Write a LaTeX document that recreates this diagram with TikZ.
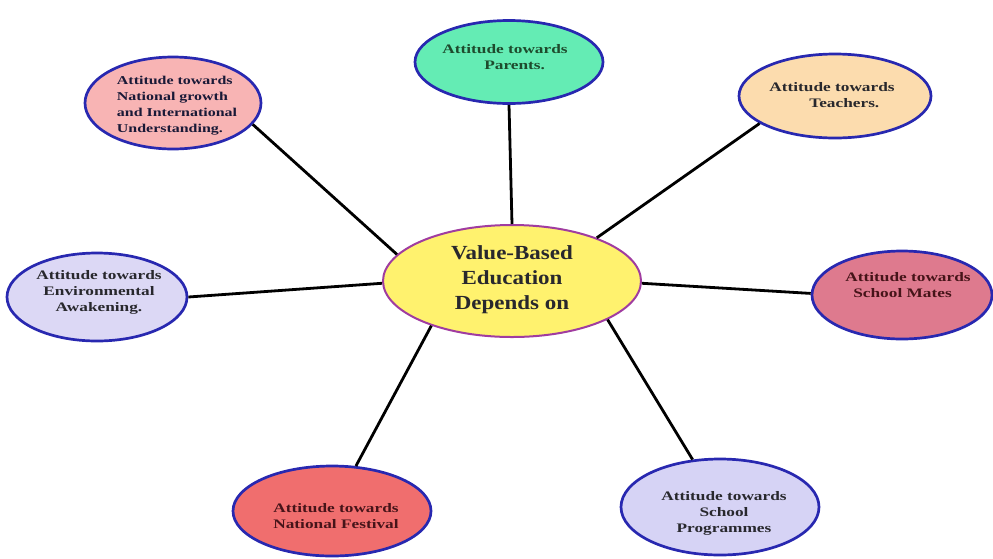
\documentclass[tikz,border=0pt]{standalone}
\usepackage{fontspec}
\setmainfont{Liberation Serif}
\newfontfamily\smallf{Liberation Serif}[FakeStretch=1.33]
\newfontfamily\bigf{Liberation Serif}[FakeStretch=1.15]
\usetikzlibrary{shapes.geometric}
\definecolor{bordblue}{RGB}{40,40,176}
\definecolor{mainfill}{RGB}{255,242,110}
\definecolor{mainbord}{RGB}{160,60,160}
\definecolor{parfill}{RGB}{100,236,180}
\definecolor{teafill}{RGB}{252,220,174}
\definecolor{smfill}{RGB}{222,122,142}
\definecolor{progfill}{RGB}{214,211,245}
\definecolor{festfill}{RGB}{240,110,110}
\definecolor{envfill}{RGB}{220,216,245}
\definecolor{ngfill}{RGB}{248,180,180}
\definecolor{txgreen}{RGB}{30,75,45}
\definecolor{txmaroon}{RGB}{70,20,25}
\definecolor{txdark}{RGB}{40,40,45}
\definecolor{txnavy}{RGB}{25,25,55}
\tikzset{
  bubble/.style={ellipse, draw=bordblue, line width=2.7pt, inner sep=0pt},
  txt/.style={inner sep=0pt, font=\smallf\bfseries\fontsize{13}{16}\selectfont},
  spoke/.style={draw=black, line width=2.8pt}
}
\begin{document}
\begin{tikzpicture}[x=1pt,y=-1pt]
\useasboundingbox (0,0) rectangle (993,558);
% ellipses
\node[bubble, fill=ngfill, minimum width=176pt, minimum height=92pt] (ng) at (173,103) {};
\node[bubble, fill=parfill, minimum width=188pt, minimum height=83pt] (par) at (509,62) {};
\node[bubble, fill=teafill, minimum width=192pt, minimum height=84pt] (tea) at (835,96) {};
\node[bubble, fill=smfill, minimum width=180pt, minimum height=88pt] (sm) at (902,295) {};
\node[bubble, fill=progfill, minimum width=198pt, minimum height=96pt] (prog) at (720,507) {};
\node[bubble, fill=festfill, minimum width=198pt, minimum height=90pt] (fest) at (332,511) {};
\node[bubble, fill=envfill, minimum width=180pt, minimum height=88pt] (env) at (97,297) {};
\node[ellipse, draw=mainbord, line width=2pt, fill=mainfill, inner sep=0pt, minimum width=258pt, minimum height=112pt] (main) at (512,281) {};
% connectors
\draw[spoke] (par.-90) -- (main.90);
\draw[spoke] (tea.200.5) -- (main.27);
\draw[spoke] (sm.179) -- (main.-1);
\draw[spoke] (prog.120) -- (main.-22.3);
\draw[spoke] (fest.62.4) -- (main.209.9);
\draw[spoke] (env.0) -- (main.181);
\draw[spoke] (ng.-15) -- (main.167.6);
% texts
\node[txt, text=txnavy, align=left, font=\smallf\bfseries\fontsize{12}{16}\selectfont] (ngT) at (177,106) {Attitude towards\\National growth\\and International\\Understanding.};
\node[txt, text=txgreen, align=left] (parT) at (505,57) {Attitude towards\\\hspace*{42pt}Parents.};
\node[txt, text=txdark, align=left] (teaT) at (832,95) {Attitude towards\\\hspace*{40pt}Teachers.};
\node[txt, text=txmaroon, align=left] (smT) at (908,285) {Attitude towards\\\hspace*{8pt}School Mates};
\node[txt, text=txdark, align=center] (progT) at (724,513) {Attitude towards\\School\\Programmes};
\node[txt, text=txmaroon, align=left] (festT) at (336,516) {Attitude towards\\National Festival};
\node[txt, text=txdark, align=center] (envT) at (99,292) {Attitude towards\\Environmental\\Awakening.};
\node[inner sep=0pt, text=txdark, align=center, font=\bigf\bfseries\fontsize{20}{25}\selectfont] (mainT) at (512,280) {Value-Based\\Education\\Depends on};
\end{tikzpicture}
\end{document}
